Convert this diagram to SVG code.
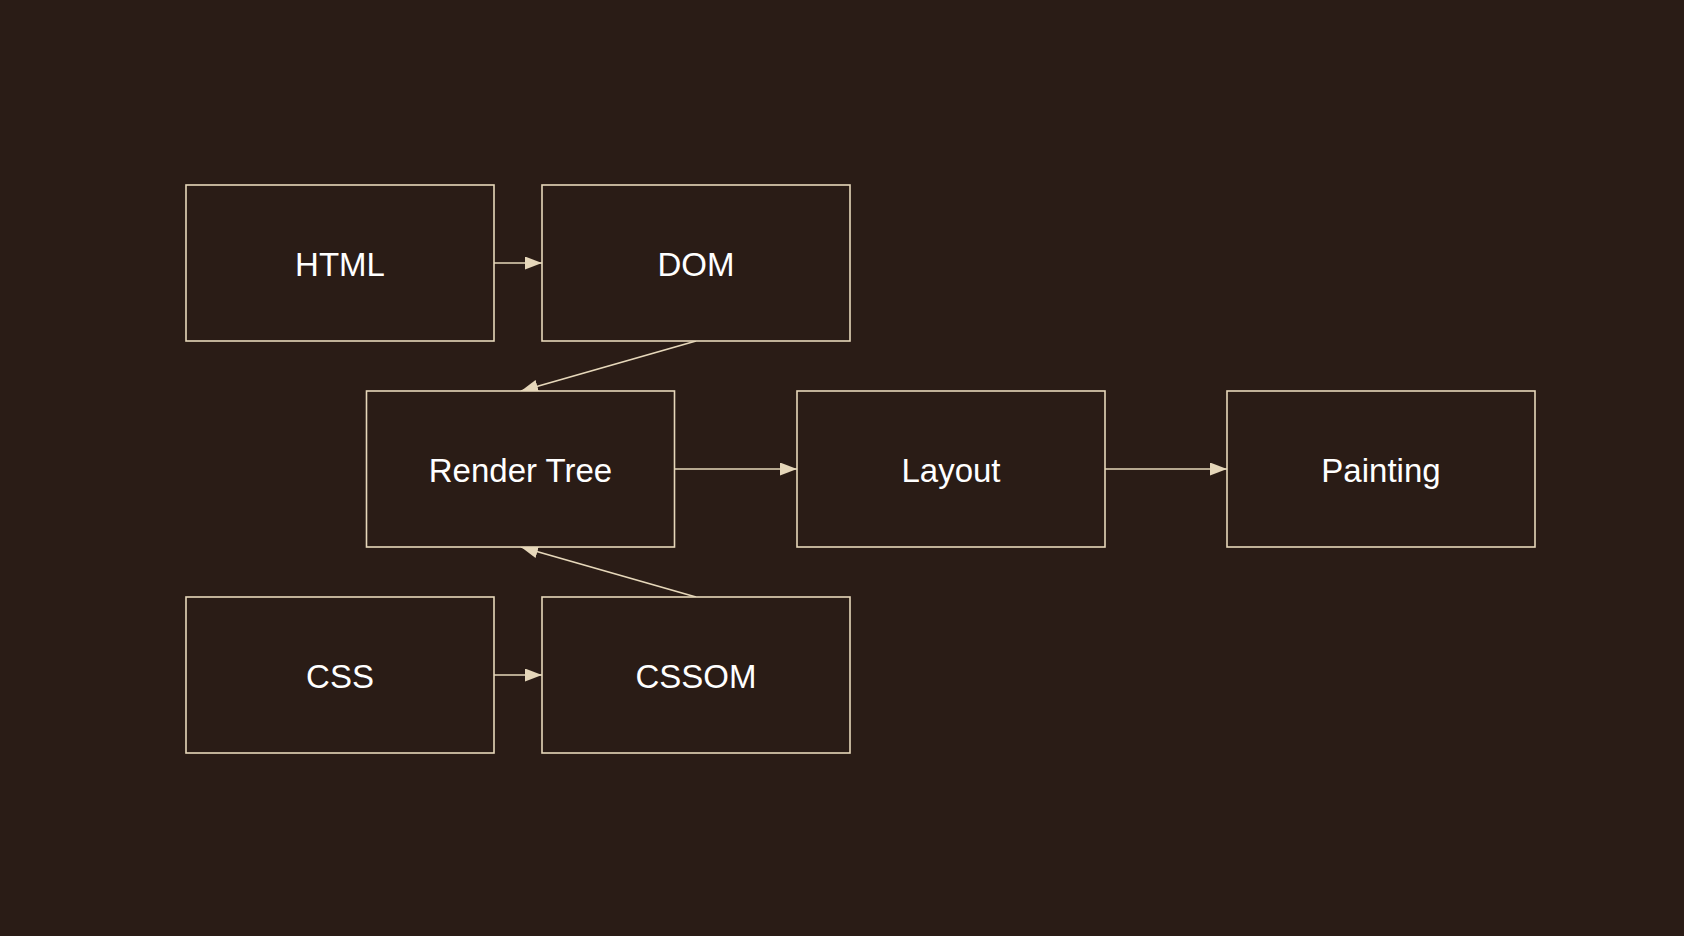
<svg xmlns="http://www.w3.org/2000/svg" width="1684" height="936" viewBox="0 0 1684 936">
  <style>
    .box { fill: #2a1c16; stroke: #e6d7ba; stroke-width: 1.6; }
    .lbl { font-family: "Liberation Sans", Arial, sans-serif; font-size: 33px; fill: #ffffff; text-anchor: middle; }
    .edge { stroke: #e6d7ba; stroke-width: 1.6; fill: none; marker-end: url(#arrow); }
  </style>
  <defs>
    <marker id="arrow" markerUnits="userSpaceOnUse" markerWidth="18" markerHeight="14" refX="17" refY="6.5" orient="auto">
      <path d="M0,0 L17,6.5 L0,13 Z" fill="#e6d7ba"/>
    </marker>
  </defs>
  <rect width="1684" height="936" fill="#2a1c16"/>
  <g id="connectors">
    <line class="edge" x1="494" y1="263" x2="542" y2="263"/>
    <line class="edge" x1="494" y1="675" x2="542" y2="675"/>
    <line class="edge" x1="696" y1="341" x2="521" y2="391"/>
    <line class="edge" x1="696" y1="597" x2="521" y2="547"/>
    <line class="edge" x1="674.5" y1="469" x2="797" y2="469"/>
    <line class="edge" x1="1105" y1="469" x2="1227" y2="469"/>
  </g>
  <g id="html">
    <rect class="box" x="186" y="185" width="308" height="156"/>
    <text class="lbl" x="340" y="276">HTML</text>
  </g>
  <g id="dom">
    <rect class="box" x="542" y="185" width="308" height="156"/>
    <text class="lbl" x="696" y="276">DOM</text>
  </g>
  <g id="render-tree">
    <rect class="box" x="366.5" y="391" width="308" height="156"/>
    <text class="lbl" x="520.5" y="482">Render Tree</text>
  </g>
  <g id="layout">
    <rect class="box" x="797" y="391" width="308" height="156"/>
    <text class="lbl" x="951" y="482">Layout</text>
  </g>
  <g id="painting">
    <rect class="box" x="1227" y="391" width="308" height="156"/>
    <text class="lbl" x="1381" y="482">Painting</text>
  </g>
  <g id="css">
    <rect class="box" x="186" y="597" width="308" height="156"/>
    <text class="lbl" x="340" y="688">CSS</text>
  </g>
  <g id="cssom">
    <rect class="box" x="542" y="597" width="308" height="156"/>
    <text class="lbl" x="696" y="688">CSSOM</text>
  </g>
</svg>
